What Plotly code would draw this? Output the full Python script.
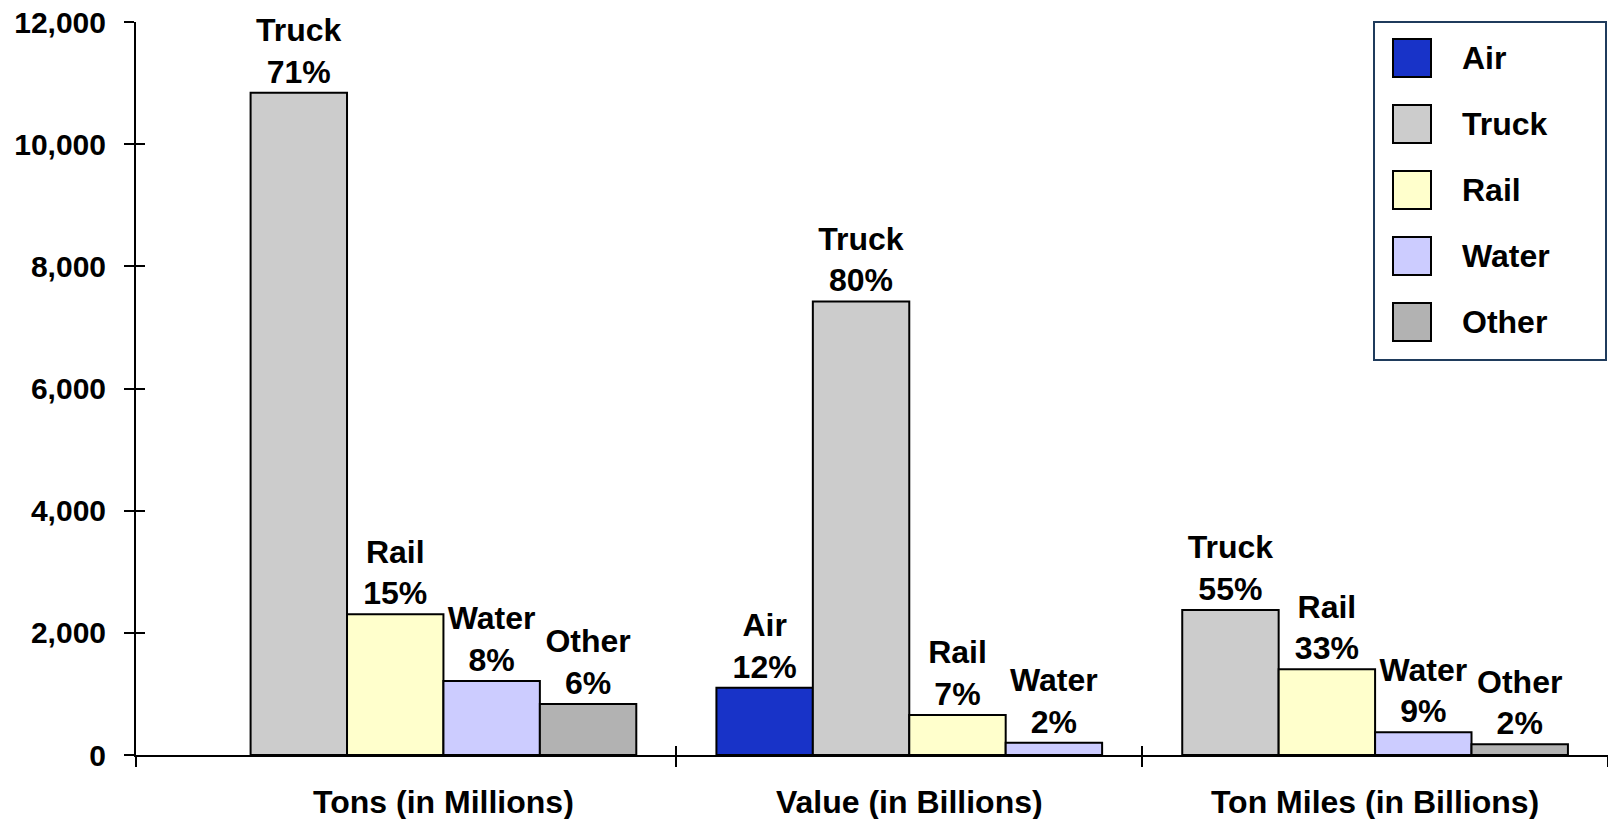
import plotly.graph_objects as go

# Freight shipments by mode: tons, value and ton-miles
categories = ["Tons (in Millions)", "Value (in Billions)", "Ton Miles (in Billions)"]
modes = ["Air", "Truck", "Rail", "Water", "Other"]

air_vals = [None, 1102, None]
truck_vals = [10843, 7425, 2374]
rail_vals = [2303, 655, 1403]
water_vals = [1211, 201, 372]
other_vals = [835, None, 175]

air_pct = [None, "12%", None]
truck_pct = ["71%", "80%", "55%"]
rail_pct = ["15%", "7%", "33%"]
water_pct = ["8%", "2%", "9%"]
other_pct = ["6%", None, "2%"]

y_ticks = [0, 2000, 4000, 6000, 8000, 10000, 12000]

colors = ["#1833C8", "#CCCCCC", "#FFFFCC", "#CCCCFF", "#B2B2B2"]
series = list(zip(modes,
                  [air_vals, truck_vals, rail_vals, water_vals, other_vals],
                  [air_pct, truck_pct, rail_pct, water_pct, other_pct],
                  colors))

FONT = "Liberation Sans, Arial, sans-serif"
LABEL_SIZE = 32
TICK_SIZE = 30
bar_w = 0.207
x_lo, x_hi = -0.66, 2.5

# place the bars that exist in each category side by side, centred on it
positions = {name: [None] * len(categories) for name in modes}
for i in range(len(categories)):
    present = [name for name, vals, _, _ in series if vals[i] is not None]
    n = len(present)
    for k, name in enumerate(present):
        positions[name][i] = i + (k - (n - 1) / 2) * bar_w

fig = go.Figure()
for name, vals, pcts, col in series:
    xs, ys, txt = [], [], []
    for i, v in enumerate(vals):
        if v is None:
            continue
        xs.append(positions[name][i])
        ys.append(v)
        txt.append(f"{name}<br>{pcts[i]}")
    fig.add_bar(
        x=xs, y=ys, width=bar_w, name=name,
        marker=dict(color=col, line=dict(color="black", width=2)),
        text=txt, textposition="outside", textangle=0,
        constraintext="none", cliponaxis=False,
        textfont=dict(family=FONT, size=LABEL_SIZE, color="black", weight="bold"),
        showlegend=False, hoverinfo="x+y",
    )

# empty trace so the overlaid tick axes are drawn
fig.add_scatter(x=[], y=[], xaxis="x2", yaxis="y2", showlegend=False)

boundaries = [x_lo, 0.5, 1.5, 2.5]

L, T, B = 136, 22, 64
W, H = 1608, 819
plot_w, plot_h = W - L, H - T - B

fig.update_layout(
    width=W, height=H,
    margin=dict(l=L, r=0, t=T, b=B, pad=0),
    paper_bgcolor="white", plot_bgcolor="white",
    barmode="overlay",
    font=dict(family=FONT, size=TICK_SIZE, color="black", weight="bold"),
    xaxis=dict(
        range=[x_lo, x_hi], tickvals=[0, 1, 2], ticktext=categories,
        ticks="", showline=True, linecolor="black", linewidth=2,
        showgrid=False, zeroline=False, ticklabelstandoff=18,
        tickfont=dict(family=FONT, size=LABEL_SIZE, color="black", weight="bold"),
        minor=dict(tickmode="array", tickvals=boundaries, ticks="outside",
                   ticklen=10, tickwidth=2, tickcolor="black", showgrid=False),
    ),
    xaxis2=dict(
        range=[x_lo, x_hi], overlaying="x", anchor="y", side="bottom",
        tickvals=boundaries, ticks="inside", ticklen=9, tickwidth=2,
        tickcolor="black", showticklabels=False, showline=False,
        showgrid=False, zeroline=False,
    ),
    yaxis=dict(
        range=[0, 12000], tickvals=y_ticks, tickformat=",d",
        ticks="outside", ticklen=10, tickwidth=2, tickcolor="black",
        showline=True, linecolor="black", linewidth=2,
        showgrid=False, zeroline=False, ticklabelstandoff=12,
        tickfont=dict(family=FONT, size=TICK_SIZE, color="black", weight="bold"),
    ),
    yaxis2=dict(
        range=[0, 12000], overlaying="y", anchor="x", side="left",
        tickvals=y_ticks, ticks="inside", ticklen=9, tickwidth=2,
        tickcolor="black", showticklabels=False, showline=False,
        showgrid=False, zeroline=False,
    ),
)


def px_x(px):
    return (px - L) / plot_w


def px_y(py):
    return (H - B - py) / plot_h


# legend box
box = (1374, 22, 1606, 360)
fig.add_shape(type="rect", xref="paper", yref="paper",
              x0=px_x(box[0]), x1=px_x(box[2]), y0=px_y(box[3]), y1=px_y(box[1]),
              line=dict(color="#1F3B5C", width=2), fillcolor="white", layer="above")
row0, row_step, sw = 58, 66, 38
for j, (name, _, _, col) in enumerate(series):
    cy = row0 + j * row_step
    fig.add_shape(type="rect", xref="paper", yref="paper",
                  x0=px_x(1393), x1=px_x(1393 + sw),
                  y0=px_y(cy + sw / 2), y1=px_y(cy - sw / 2),
                  line=dict(color="black", width=2), fillcolor=col, layer="above")
    fig.add_annotation(xref="paper", yref="paper", x=px_x(1460), y=px_y(cy),
                       text=name, showarrow=False, xanchor="left", yanchor="middle",
                       font=dict(family=FONT, size=LABEL_SIZE, color="black", weight="bold"))

fig.write_html("out.html")
